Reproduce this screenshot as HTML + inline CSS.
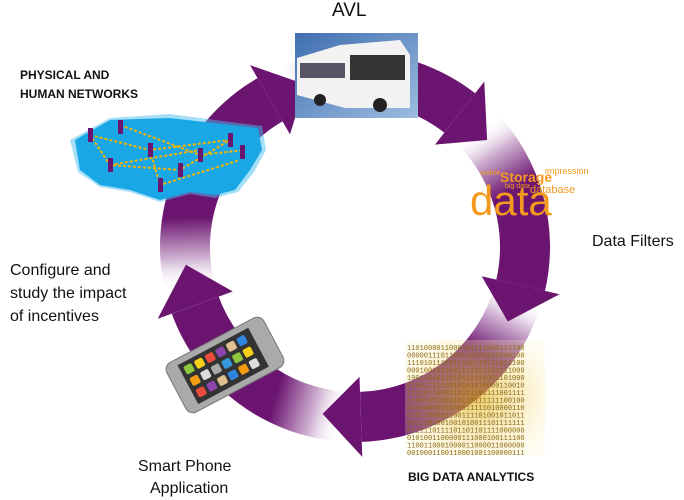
<!DOCTYPE html><html><head><style>
body{margin:0;width:684px;height:499px;background:#fff;overflow:hidden;position:relative;font-family:"Liberation Sans",sans-serif}
.t{position:absolute;color:#111;font-size:16px;line-height:22px}
</style></head><body>
<svg id="s" width="684" height="499" style="position:absolute;left:0;top:0">
<defs>
<linearGradient id="bus" x1="0" y1="0" x2="1" y2="1"><stop offset="0" stop-color="#3f6eb0"/><stop offset="1" stop-color="#9dbde0"/></linearGradient>
<radialGradient id="bin" cx="0.5" cy="0.5" r="0.6"><stop offset="0" stop-color="#e0b020"/><stop offset="1" stop-color="#fff3c0" stop-opacity="0.3"/></radialGradient>
</defs>
<g id="ring"></g>
<!-- map -->
<path d="M70,140 L110,118 L170,114 L230,122 L262,126 L266,150 L254,172 L238,192 L215,198 L190,194 L160,202 L130,192 L100,187 L78,172 Z" fill="#4cc0f0" opacity="0.5"/>
<path d="M75,140 L110,120 L170,118 L230,125 L258,128 L262,150 L250,170 L235,190 L215,195 L190,192 L160,200 L130,190 L100,185 L80,170 Z" fill="#19a7e6"/>
<g stroke="#f5b400" stroke-width="2" stroke-dasharray="3,2" fill="none">
<path d="M90,135 L150,150 L230,140 L180,170 L110,165 L90,135 M120,125 L200,155 L245,150 M150,150 L160,185 L240,160 M110,165 L200,150"/></g>
<g fill="#6b1470"><rect x="88" y="128" width="5" height="14"/><rect x="118" y="120" width="5" height="14"/><rect x="148" y="143" width="5" height="14"/><rect x="178" y="163" width="5" height="14"/><rect x="228" y="133" width="5" height="14"/><rect x="198" y="148" width="5" height="14"/><rect x="108" y="158" width="5" height="14"/><rect x="158" y="178" width="5" height="14"/><rect x="240" y="145" width="5" height="14"/></g>
<!-- bus -->
<rect x="295" y="33" width="123" height="85" fill="url(#bus)"/>
<path d="M297,58 L340,45 L400,40 L410,55 L410,108 L345,108 L297,95 Z" fill="#f2f2f2"/>
<rect x="350" y="55" width="55" height="25" fill="#333"/><rect x="300" y="63" width="45" height="15" fill="#556"/>
<circle cx="380" cy="105" r="7" fill="#222"/><circle cx="320" cy="100" r="6" fill="#222"/>
<!-- data cloud -->
<text x="470" y="215" font-size="42" fill="#f39a1e" font-family="Liberation Sans">data</text>
<text x="500" y="182" font-size="14" fill="#f39a1e" font-weight="bold">Storage</text>
<text x="530" y="193" font-size="11" fill="#f39a1e">database</text>
<text x="545" y="174" font-size="9" fill="#f39a1e">impression</text>
<text x="480" y="175" font-size="7" fill="#f39a1e">mobile</text>
<text x="505" y="188" font-size="7" fill="#f39a1e">big data</text>
<!-- binary -->
<rect x="405" y="340" width="140" height="115" fill="url(#bin)" opacity="0.7"/>
<g font-family="Liberation Mono" font-size="7" fill="#8a6a10" id="bt"></g>
<!-- phone -->
<g transform="translate(225,365) rotate(-28)">
<rect x="-55" y="-28" width="110" height="56" rx="8" fill="#aaa" stroke="#777"/>
<rect x="-42" y="-22" width="80" height="44" fill="#333"/>
<g id="ap"></g></g>
</svg>
<div class="t" style="left:332px;top:0;font-size:19px">AVL</div>
<div class="t" style="left:20px;top:66px;font-size:12px;font-weight:bold;line-height:19px">PHYSICAL AND<br>HUMAN NETWORKS</div>
<div class="t" style="left:592px;top:231px">Data Filters</div>
<div class="t" style="left:10px;top:259px;line-height:23px">Configure and<br>study the impact<br>of incentives</div>
<div class="t" style="left:138px;top:456px;text-align:center;line-height:22px">Smart Phone<br>&nbsp;&nbsp;Application</div>
<div class="t" style="left:408px;top:466px;font-size:12px;font-weight:bold">BIG DATA ANALYTICS</div>
<script>
var cx=355,cy=247,ri=145,ro=195,rm=170,P='#6b1470';
function p(r,a){a=a*Math.PI/180;return (cx+r*Math.cos(a)).toFixed(1)+','+(cy+r*Math.sin(a)).toFixed(1)}
function xy(r,a){return p(r,a).split(',')}
var segs=[[166,240,253],[246,308,321],[316,373,386],[16,88,101],[94,160,174]],h='',hh='';
segs.forEach(function(s,i){var a=s[0],b=s[1],t=s[2];var A=xy(rm,a),B=xy(rm,a+24);
h+='<defs><linearGradient id="g'+i+'" gradientUnits="userSpaceOnUse" x1="'+A[0]+'" y1="'+A[1]+'" x2="'+B[0]+'" y2="'+B[1]+'"><stop offset="0" stop-color="#ffffff" stop-opacity="0"/><stop offset="0.4" stop-color="#d4b8d6"/><stop offset="1" stop-color="'+P+'"/></linearGradient></defs>';
h+='<path d="M'+p(ro,a)+' A'+ro+','+ro+' 0 0 1 '+p(ro,b)+' L'+p(ri,b)+' A'+ri+','+ri+' 0 0 0 '+p(ri,a)+'Z" fill="url(#g'+i+')"/>';
hh+='<polygon points="'+p(ro+15,b)+' '+p(rm,t)+' '+p(ri-15,b)+'" fill="'+P+'"/>';});
document.getElementById('ring').innerHTML=h+hh;
var bt='';for(var y=0;y<15;y++){var s='';for(var k=0;k<28;k++)s+=Math.random()<.5?'0':'1';bt+='<text x="407" y="'+(350+y*7.5)+'">'+s+'</text>';}
document.getElementById('bt').innerHTML=bt;
var c=['#8dc63f','#f7d117','#e74c3c','#8e44ad','#e0c090','#2e86de','#f39c12','#ddd','#aaa','#3498db'],a='';
for(var r=0;r<3;r++)for(var q=0;q<6;q++)a+='<rect x="'+(-38+q*12)+'" y="'+(-18+r*13)+'" width="9" height="9" rx="2" fill="'+c[(r*6+q)%10]+'"/>';
document.getElementById('ap').innerHTML=a;
</script>
</body></html>
